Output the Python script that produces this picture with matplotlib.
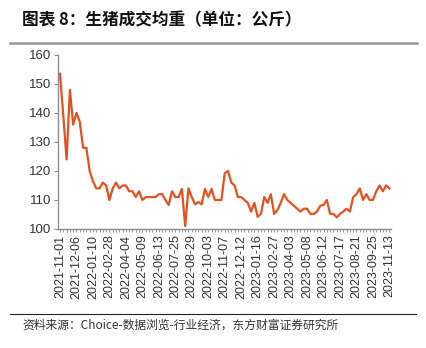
import matplotlib
matplotlib.use("Agg")
from matplotlib import pyplot as plt
from matplotlib.lines import Line2D
from matplotlib.ticker import MultipleLocator
import numpy as np

plt.rcParams['font.family'] = ['Liberation Sans', 'Noto Sans CJK SC', 'DejaVu Sans']

# weekly average slaughter weight of hogs (kg), one value per week
weights = [
    153.5, 139, 124, 148, 136, 140, 137, 128, 128, 120,
    116.5, 114, 114, 116, 115, 110, 114, 116, 114, 115,
    115, 113, 113, 111, 113, 110, 111, 111, 111, 111,
    112, 112, 110, 108.3, 113, 111, 111, 113.8, 101, 114,
    111, 108.5, 109.3, 108.5, 113.8, 111, 113.8, 110, 110, 110,
    119.2, 120, 116, 115, 111, 111, 110, 109, 106, 109,
    104.2, 105.2, 111, 109, 112, 105.2, 106.5, 109, 112, 110,
    109, 108, 107, 106, 107, 107, 105.2, 105.2, 106, 108,
    108.3, 110, 105.2, 105.2, 104, 105.2, 106, 107, 106, 111,
    112, 114, 110, 112, 110, 110, 113, 115, 113, 115,
    114,
]

# every fifth week is labelled
tick_labels = [
    '2021-11-01', '2021-12-06', '2022-01-10', '2022-02-28', '2022-04-04',
    '2022-05-09', '2022-06-13', '2022-07-25', '2022-08-29', '2022-10-03',
    '2022-11-07', '2022-12-12', '2023-01-16', '2023-02-27', '2023-04-03',
    '2023-05-08', '2023-06-12', '2023-07-17', '2023-08-21', '2023-09-25',
    '2023-11-13',
]

title = '图表 8：生猪成交均重（单位：公斤）'
source = '资料来源：Choice-数据浏览-行业经济，东方财富证券研究所'

fig = plt.figure(figsize=(4.26, 3.48), dpi=100)
ax = fig.add_axes([0.137, 0.342, 0.781, 0.500])

xs = np.arange(len(weights))
ax.plot(xs, weights, color='#E4511E', linewidth=1.6, solid_joinstyle='round')

ax.set_xlim(-0.5, len(weights) - 0.5)
ax.set_ylim(100, 160)
ax.yaxis.set_major_locator(MultipleLocator(10))
ax.set_xticks(xs[::5])
ax.set_xticklabels(tick_labels, rotation=90)
ax.xaxis.set_minor_locator(MultipleLocator(1))

for side in ['top', 'right']:
    ax.spines[side].set_visible(False)
for side in ['left', 'bottom']:
    ax.spines[side].set_color('#8c8c8c')
    ax.spines[side].set_linewidth(1.0)

ax.tick_params(axis='y', direction='out', length=3, width=0.8, color='#8c8c8c',
               labelsize=9.5, labelcolor='#333333', pad=2)
ax.tick_params(axis='x', which='both', direction='out', length=2, width=0.6,
               color='#8c8c8c', labelsize=9, labelcolor='#333333', pad=2)

# header and footer
fig.text(22 / 426, 1 - 20 / 348, title, fontsize=12, fontweight='bold',
         family=['Noto Sans CJK SC', 'DejaVu Sans'], color='#111111',
         ha='left', va='center')
fig.add_artist(Line2D([10 / 426, 417 / 426], [1 - 43 / 348, 1 - 43 / 348],
                      color='#9a9a9a', linewidth=1.8))
fig.add_artist(Line2D([10 / 426, 416 / 426], [1 - 314 / 348, 1 - 314 / 348],
                      color='#222222', linewidth=0.8))
fig.text(22 / 426, 1 - 325 / 348, source, fontsize=8.5,
         family=['Noto Sans CJK SC', 'DejaVu Sans'], color='#333333',
         ha='left', va='center')

fig.savefig('out.png', dpi=100)
